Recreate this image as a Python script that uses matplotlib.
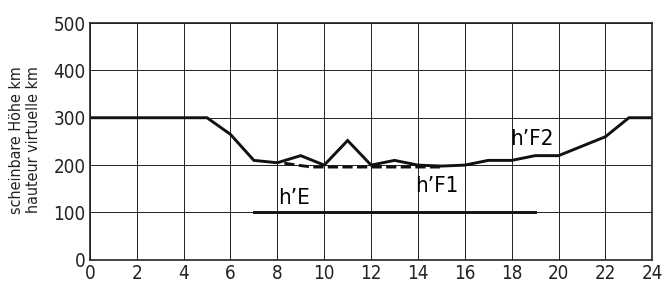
import matplotlib.pyplot as plt

plt.rcParams['font.family'] = ['DejaVu Sans']

### Data
hours_f2 = [0, 5, 6, 7, 8, 9, 10, 11, 12, 13, 14, 15, 16, 17, 18, 19, 20, 22, 23, 24]
height_f2 = [300, 300, 265, 210, 205, 220, 200, 252, 200, 210, 200, 198, 200, 210, 210, 220, 220, 260, 300, 300]

hours_f1 = [8.3, 9.0, 9.5, 15.0]
height_f1 = [204, 199, 196, 196]

hours_e = [7, 19]
height_e = [100, 100]

x_ticks = list(range(0, 25, 2))
y_ticks = [0, 100, 200, 300, 400, 500]

### Charting
fig = plt.figure(figsize=(6.65, 2.84), dpi=100)
ax = fig.add_axes([0.135, 0.085, 0.846, 0.834])

ax.plot(hours_f2, height_f2, color='#111111', lw=2.1, solid_joinstyle='miter')
ax.plot(hours_f1, height_f1, color='#111111', lw=2.1, ls=(0, (3.5, 1.5)))
ax.plot(hours_e, height_e, color='#111111', lw=2.1)

lab = dict(fontsize=16, va='center', ha='center', fontstretch='condensed')
ax.text(8.7, 130, "h\u2019E", **lab)
ax.text(14.8, 155, "h\u2019F1", **lab)
ax.text(18.85, 255, "h\u2019F2", **lab)

ax.set_xlim(0, 24)
ax.set_ylim(0, 500)
ax.set_xticks(x_ticks)
ax.set_yticks(y_ticks)
ax.tick_params(length=0, labelsize=13.5, pad=3, colors='#222222')
for t in ax.get_xticklabels() + ax.get_yticklabels():
    t.set_fontstretch('condensed')
ax.grid(True, color='#222222', lw=0.7)
for s in ax.spines.values():
    s.set_linewidth(1.2)
    s.set_color('#222222')

fig.text(0.038, 0.507, "scheinbare H\u00f6he km\nhauteur virtuelle km",
         rotation=90, ha='center', va='center', fontsize=11.5, linespacing=1.2,
         color='#222222', fontstretch='condensed')

fig.savefig('out.png', dpi=100)
